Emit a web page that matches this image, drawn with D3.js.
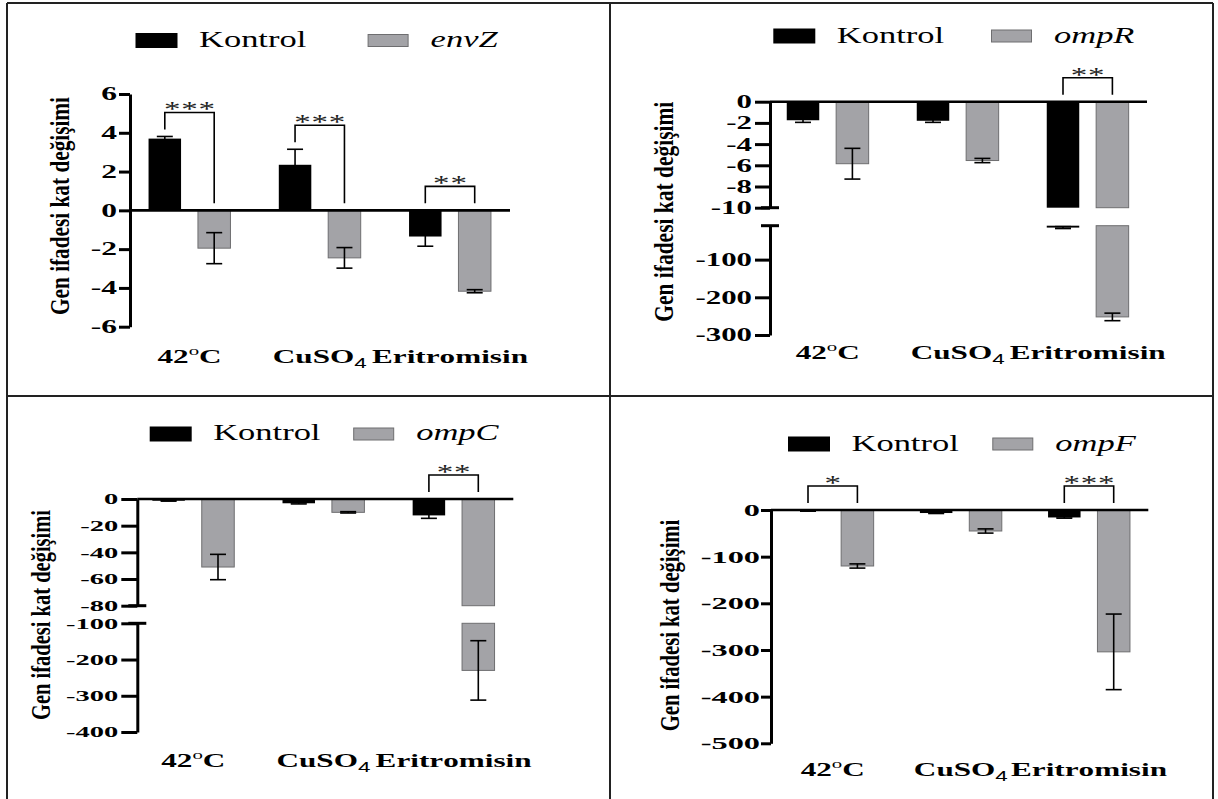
<!DOCTYPE html>
<html>
<head>
<meta charset="utf-8">
<script src="https://cdn.jsdelivr.net/npm/d3@7"></script>
<style>
  body { margin: 0; background: #fff; }
  svg { display: block; }
</style>
</head>
<body>
<svg id="fig" width="1218" height="799"></svg>
<script>
// Conditions on the x axis
const categories = ["42°C", "CuSO4", "Eritromisin"];
const controlName = "Kontrol";

// envZ: fold change (mean, SD)
const envZKontrol = [3.7, 2.35, -1.35];
const envZKontrolSD = [0.11, 0.8, 0.5];
const envZValues = [-1.95, -2.45, -4.17];
const envZSD = [0.8, 0.53, 0.08];
const envZSig = ["***", "***", "**"];
const envZTicks = [6, 4, 2, 0, -2, -4, -6];

// ompR
const ompRKontrol = [-1.75, -1.8, -15];
const ompRKontrolSD = [0.2, 0.15, 2.5];
const ompRValues = [-5.85, -5.55, -252];
const ompRSD = [1.45, 0.2, 10];
const ompRSig = ["", "", "**"];
const ompRTicksUpper = [0, -2, -4, -6, -8, -10];
const ompRTicksLower = [-100, -200, -300];

// ompC
const ompCKontrol = [-1.3, -3.2, -12.3];
const ompCKontrolSD = [0.3, 0.5, 2.2];
const ompCValues = [-51, -10, -230];
const ompCSD = [9.5, 0.5, 82];
const ompCSig = ["", "", "**"];
const ompCTicksUpper = [0, -20, -40, -60, -80];
const ompCTicksLower = [-100, -200, -300, -400];

// ompF
const ompFKontrol = [-2, -6.5, -16];
const ompFKontrolSD = [0.5, 1, 1.5];
const ompFValues = [-120, -45, -304];
const ompFSD = [4.5, 4.5, 81];
const ompFSig = ["*", "", "***"];
const ompFTicks = [0, -100, -200, -300, -400, -500];

const yTitle = "Gen ifadesi kat değişimi";

// ---- styling ----
const SERIF = "Liberation Serif, Times New Roman, serif";
const BAR_BLACK = "#000";
const BAR_GREY = "#a3a3a7";
const BAR_GREY_EDGE = "#6e6e70";
const SX_CAT = 1.6, SX_LEG = 1.5, SX_STAR = 1.5;

const panels = [
  {
    gene: "envZ", kontrol: envZKontrol, kontrolSD: envZKontrolSD, values: envZValues, sd: envZSD, sig: envZSig,
    axisX: 130, xEnd: 510, c0: 189.5, c2: 450, tick: 11, pad: 2, tickFont: 18, tickSx: 1.75,
    segments: [{ domain: [6, -6], range: [94, 326.7], ticks: envZTicks }],
    caps: [],
    legend: { y: 33, kx: 135.5, gx: 367.6, base: 47 },
    title: { x: 62.5, y: 206, len: 218 }, catY: 363
  },
  {
    gene: "ompR", kontrol: ompRKontrol, kontrolSD: ompRKontrolSD, values: ompRValues, sd: ompRSD, sig: ompRSig,
    axisX: 770, xEnd: 1147, c0: 827.7, c2: 1087.7, tick: 15, pad: 3, tickFont: 18.5, tickSx: 1.67,
    segments: [
      { domain: [0, -10], range: [101.7, 207.7], ticks: ompRTicksUpper },
      { domain: [-10, -300], range: [225.7, 335], ticks: ompRTicksLower }
    ],
    caps: [{ seg: 0, v: -10 }, { seg: 1, v: -10 }],
    legend: { y: 28.5, kx: 773.3, gx: 991, base: 42.7 },
    title: { x: 667, y: 211.7, len: 220 }, catY: 359
  },
  {
    gene: "ompC", kontrol: ompCKontrol, kontrolSD: ompCKontrolSD, values: ompCValues, sd: ompCSD, sig: ompCSig,
    axisX: 137.3, xEnd: 513.3, c0: 193.3, c2: 453.6, tick: 16, pad: 3, tickFont: 15.5, tickSx: 1.84,
    segments: [
      { domain: [0, -80], range: [499, 605.7], ticks: ompCTicksUpper },
      { domain: [-100, -400], range: [623.3, 732], ticks: ompCTicksLower }
    ],
    caps: [{ seg: 0, v: -80 }, { seg: 1, v: -100 }],
    legend: { y: 426.5, kx: 149.7, gx: 353.2, base: 440.3 },
    title: { x: 44, y: 615, len: 210 }, catY: 767
  },
  {
    gene: "ompF", kontrol: ompFKontrol, kontrolSD: ompFKontrolSD, values: ompFValues, sd: ompFSD, sig: ompFSig,
    axisX: 771, xEnd: 1148.3, c0: 832.7, c2: 1089, tick: 10, pad: 1, tickFont: 17.5, tickSx: 1.85,
    segments: [{ domain: [0, -500], range: [510, 743.3], ticks: ompFTicks }],
    caps: [],
    legend: { y: 436.5, kx: 788, gx: 992.3, base: 450.7 },
    title: { x: 673, y: 625.5, len: 211.6 }, catY: 776
  }
];

const svg = d3.select("#fig");
svg.append("rect").attr("width", 1218).attr("height", 799).attr("fill", "#fff");

// frame lines around the four panels
const frame = svg.append("g").attr("stroke", "#222").attr("stroke-width", 2);
[[7, 3, 1213, 3], [7, 396, 1213, 396], [7, 3, 7, 799], [610, 3, 610, 799], [1213, 3, 1213, 799]]
  .forEach(([x1, y1, x2, y2]) => frame.append("line").attr("x1", x1).attr("y1", y1).attr("x2", x2).attr("y2", y2));

function stretchText(g, x, y, str, o) {
  return g.append("text")
    .attr("transform", `translate(${x},${y}) scale(${o.sx},1)`)
    .attr("text-anchor", o.anchor || "start")
    .style("font-family", SERIF)
    .attr("font-size", o.size)
    .attr("font-weight", o.weight || "normal")
    .attr("font-style", o.style || "normal")
    .attr("fill", "#000")
    .text(str);
}

// category label with superscript degree and chemical subscripts
function categoryLabel(g, x, y, label) {
  const t = g.append("text")
    .attr("transform", `translate(${x},${y}) scale(${SX_CAT},1)`)
    .attr("text-anchor", "middle")
    .style("font-family", SERIF).attr("font-size", 19.5).attr("font-weight", "bold");
  const tokens = [];
  label.replace(/(°)|([A-Za-z])(\d+)|([^°])/g, (m, deg, letter, digits, other) => {
    if (deg) tokens.push({ t: "o", k: "sup" });
    else if (letter) { tokens.push({ t: letter, k: "n" }); tokens.push({ t: digits, k: "sub" }); }
    else tokens.push({ t: other, k: "n" });
  });
  let shift = 0;
  tokens.forEach(tok => {
    const s = t.append("tspan").text(tok.t);
    const target = tok.k === "sup" ? -8 : tok.k === "sub" ? 5 : 0;
    if (target !== shift) { s.attr("dy", target - shift); shift = target; }
    if (tok.k === "sup") s.attr("font-size", 13).attr("font-weight", "normal");
    if (tok.k === "sub") s.attr("font-size", 14).attr("font-weight", "normal")
      .style("font-family", "Liberation Sans, Arial, sans-serif");
  });
}

panels.forEach(p => {
  const g = svg.append("g");
  const segScales = p.segments.map(s => d3.scaleLinear().domain(s.domain).range(s.range));
  const segOf = v => p.segments.findIndex(s => v <= d3.max(s.domain) && v >= d3.min(s.domain));
  const yOf = v => {
    const i = segOf(v);
    return i >= 0 ? segScales[i](v) : segScales[segScales.length - 1](v);
  };
  // parts of an interval that fall inside each axis segment, as pixel spans
  const pieces = (a, b) => {
    const lo = Math.min(a, b), hi = Math.max(a, b);
    const out = [];
    p.segments.forEach((s, i) => {
      const l = Math.max(lo, d3.min(s.domain)), h = Math.min(hi, d3.max(s.domain));
      if (h > l) out.push([segScales[i](h), segScales[i](l)]);
    });
    return out;
  };

  const series = [controlName, p.gene];
  const xGroup = d3.scalePoint().domain(categories).range([p.c0, p.c2]);
  const xInner = d3.scaleBand().domain(series).range([-40.95, 40.95]).paddingInner(0.342).paddingOuter(0);

  const rows = [];
  categories.forEach((c, i) => {
    rows.push({ c, s: controlName, v: p.kontrol[i], sd: p.kontrolSD[i] });
    rows.push({ c, s: p.gene, v: p.values[i], sd: p.sd[i] });
  });
  const bx = d => xGroup(d.c) + xInner(d.s);
  const bcx = d => bx(d) + xInner.bandwidth() / 2;

  // bars
  rows.forEach(d => {
    pieces(0, d.v).forEach(([y1, y2]) => {
      g.append("rect")
        .attr("x", bx(d)).attr("y", y1)
        .attr("width", xInner.bandwidth()).attr("height", Math.max(0.8, y2 - y1))
        .attr("fill", d.s === controlName ? BAR_BLACK : BAR_GREY)
        .attr("stroke", d.s === controlName ? "none" : BAR_GREY_EDGE)
        .attr("stroke-width", 1);
    });
  });

  // error bars (mean ± SD)
  const eg = g.append("g").attr("stroke", "#000").attr("stroke-width", 1.6);
  rows.forEach(d => {
    const cx = bcx(d);
    pieces(d.v - d.sd, d.v + d.sd).forEach(([y1, y2]) => {
      eg.append("line").attr("x1", cx).attr("x2", cx).attr("y1", y1).attr("y2", y2);
    });
    [d.v - d.sd, d.v + d.sd].forEach(e => {
      if (segOf(e) < 0) return;
      const ye = yOf(e);
      eg.append("line").attr("x1", cx - 8).attr("x2", cx + 8).attr("y1", ye).attr("y2", ye);
    });
  });

  // zero line
  g.append("line")
    .attr("x1", p.axisX).attr("x2", p.xEnd)
    .attr("y1", yOf(0)).attr("y2", yOf(0))
    .attr("stroke", "#000").attr("stroke-width", 2.6);

  // y axis (one piece per segment)
  p.segments.forEach((s, i) => {
    const ax = g.append("g").attr("transform", `translate(${p.axisX},0)`)
      .call(d3.axisLeft(segScales[i]).tickValues(s.ticks).tickSize(p.tick)
        .tickSizeOuter(0).tickPadding(p.pad).tickFormat(d => String(d)));
    ax.attr("font-family", null).attr("font-size", null);
    ax.selectAll("path, line").attr("stroke", "#000").attr("stroke-width", 3);
    ax.selectAll(".tick text")
      .style("font-family", SERIF).attr("font-size", p.tickFont).attr("font-weight", "bold").attr("fill", "#000")
      .attr("x", -(p.tick + p.pad) / p.tickSx)
      .attr("transform", `scale(${p.tickSx},1)`);
  });
  // break caps
  p.caps.forEach(c => {
    const yy = segScales[c.seg](c.v);
    g.append("line").attr("x1", p.axisX - 9).attr("x2", p.axisX + 9)
      .attr("y1", yy).attr("y2", yy).attr("stroke", "#000").attr("stroke-width", 3);
  });

  // significance brackets
  const topOf = d => yOf(d.v > 0 ? d.v + d.sd : 0);
  categories.forEach((c, i) => {
    const stars = p.sig[i];
    if (!stars) return;
    const a = rows[i * 2], b = rows[i * 2 + 1];
    const ta = topOf(a) - 7, tb = topOf(b) - 7;
    const yb = Math.min(topOf(a), topOf(b)) - 24;
    const xa = bcx(a), xb = bcx(b);
    g.append("path")
      .attr("d", `M${xa},${ta}V${yb}H${xb}V${tb}`)
      .attr("fill", "none").attr("stroke", "#000").attr("stroke-width", 1.6);
    const n = stars.length, mid = (xa + xb) / 2;
    for (let k = 0; k < n; k++) {
      stretchText(g, mid + (k - (n - 1) / 2) * 17.3, yb + 4, "*", { size: 22, sx: SX_STAR, anchor: "middle" })
        .attr("fill", "#222");
    }
  });

  // category labels
  categories.forEach(c => categoryLabel(g, xGroup(c), p.catY, c));

  // y title
  g.append("text")
    .attr("transform", `translate(${p.title.x + 6},${p.title.y}) rotate(-90)`)
    .attr("text-anchor", "middle")
    .style("font-family", SERIF).attr("font-size", 28).attr("font-weight", "bold")
    .attr("textLength", p.title.len).attr("lengthAdjust", "spacingAndGlyphs")
    .text(yTitle);

  // legend
  const L = p.legend;
  g.append("rect").attr("x", L.kx).attr("y", L.y).attr("width", 42).attr("height", 15).attr("fill", BAR_BLACK);
  g.append("rect").attr("x", L.gx + 0.5).attr("y", L.y + 1.5).attr("width", 40).attr("height", 12)
    .attr("fill", BAR_GREY).attr("stroke", BAR_GREY_EDGE).attr("stroke-width", 1);
  stretchText(g, L.kx + 63.5, L.base, controlName, { size: 23, sx: SX_LEG });
  stretchText(g, L.gx + 63, L.base, p.gene, { size: 23, sx: SX_LEG, style: "italic" });
});
</script>
</body>
</html>
